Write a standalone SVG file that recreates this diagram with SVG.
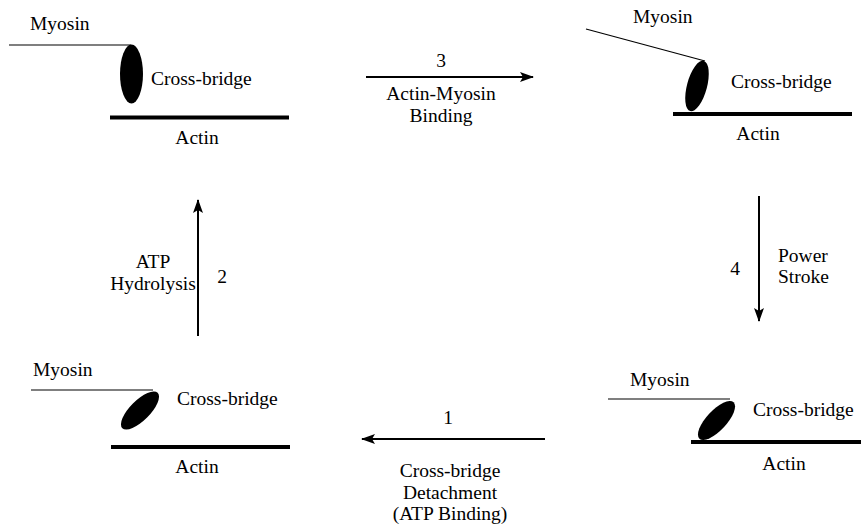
<svg xmlns="http://www.w3.org/2000/svg" width="861" height="525" viewBox="0 0 861 525">
<defs>
<style>
.m{stroke:#000;stroke-width:1.2;fill:none}
.a{stroke:#000;stroke-width:4;fill:none}
.c{stroke:#000;stroke-width:2;fill:none}
</style>
<marker id="ah" viewBox="0 0 14 10" refX="13" refY="5" markerWidth="14" markerHeight="10" markerUnits="userSpaceOnUse" orient="auto">
<path d="M0,0 L14,5 L0,10 L3,5 Z" fill="#000"/>
</marker>
</defs>
<rect width="861" height="525" fill="#fff"/>
<g id="state-top-left">
<line class="m" x1="9" y1="45" x2="131" y2="45"/>
<ellipse cx="131.5" cy="74" rx="11.5" ry="29.5" fill="#000"/>
<line class="a" x1="110" y1="117.5" x2="289" y2="117.5"/>
<text x="30" y="30" font-family="Liberation Serif" font-size="19.5">Myosin</text>
<text x="151" y="85" font-family="Liberation Serif" font-size="19.5">Cross-bridge</text>
<text x="197" y="144" font-family="Liberation Serif" font-size="19.5" text-anchor="middle">Actin</text>
</g>
<g id="state-top-right">
<line class="m" x1="586" y1="29" x2="705" y2="61"/>
<ellipse cx="697" cy="86" rx="10" ry="26" fill="#000" transform="rotate(15 697 86)"/>
<line class="a" x1="673" y1="114" x2="852" y2="114"/>
<text x="633" y="23" font-family="Liberation Serif" font-size="19.5">Myosin</text>
<text x="731" y="88" font-family="Liberation Serif" font-size="19.5">Cross-bridge</text>
<text x="758" y="140" font-family="Liberation Serif" font-size="19.5" text-anchor="middle">Actin</text>
</g>
<g id="state-bottom-left">
<line class="m" x1="31" y1="390" x2="153" y2="390"/>
<ellipse cx="140" cy="410.5" rx="10" ry="25" fill="#000" transform="rotate(45 140 410.5)"/>
<line class="a" x1="111" y1="447" x2="290" y2="447"/>
<text x="33" y="376" font-family="Liberation Serif" font-size="19.5">Myosin</text>
<text x="177" y="405" font-family="Liberation Serif" font-size="19.5">Cross-bridge</text>
<text x="197" y="473" font-family="Liberation Serif" font-size="19.5" text-anchor="middle">Actin</text>
</g>
<g id="state-bottom-right">
<line class="m" x1="608" y1="399" x2="730" y2="399"/>
<ellipse cx="716.5" cy="420.5" rx="10" ry="25" fill="#000" transform="rotate(43 716.5 420.5)"/>
<line class="a" x1="691" y1="442" x2="861" y2="442"/>
<text x="630" y="386" font-family="Liberation Serif" font-size="19.5">Myosin</text>
<text x="753" y="416" font-family="Liberation Serif" font-size="19.5">Cross-bridge</text>
<text x="784" y="470" font-family="Liberation Serif" font-size="19.5" text-anchor="middle">Actin</text>
</g>
<g id="connectors">
<line class="c" x1="366" y1="77" x2="533" y2="77" marker-end="url(#ah)"/>
<line class="c" x1="759" y1="196" x2="759" y2="321" marker-end="url(#ah)"/>
<line class="c" x1="545" y1="439" x2="362" y2="439" marker-end="url(#ah)"/>
<line class="c" x1="198" y1="336" x2="198" y2="200" marker-end="url(#ah)"/>
</g>
<g id="labels">
<text x="441" y="67" font-family="Liberation Serif" font-size="19.5" text-anchor="middle">3</text>
<text x="441" y="100" font-family="Liberation Serif" font-size="19.5" text-anchor="middle">Actin-Myosin</text>
<text x="441" y="122" font-family="Liberation Serif" font-size="19.5" text-anchor="middle">Binding</text>
<text x="735" y="275" font-family="Liberation Serif" font-size="19.5" text-anchor="middle">4</text>
<text x="778" y="262" font-family="Liberation Serif" font-size="19.5">Power</text>
<text x="778" y="283" font-family="Liberation Serif" font-size="19.5">Stroke</text>
<text x="448" y="424" font-family="Liberation Serif" font-size="19.5" text-anchor="middle">1</text>
<text x="450" y="477" font-family="Liberation Serif" font-size="19.5" text-anchor="middle">Cross-bridge</text>
<text x="450" y="499" font-family="Liberation Serif" font-size="19.5" text-anchor="middle">Detachment</text>
<text x="450" y="520" font-family="Liberation Serif" font-size="19.5" text-anchor="middle">(ATP Binding)</text>
<text x="222" y="283" font-family="Liberation Serif" font-size="19.5" text-anchor="middle">2</text>
<text x="153" y="268" font-family="Liberation Serif" font-size="19.5" text-anchor="middle">ATP</text>
<text x="153" y="290" font-family="Liberation Serif" font-size="19.5" text-anchor="middle">Hydrolysis</text>
</g>
</svg>
